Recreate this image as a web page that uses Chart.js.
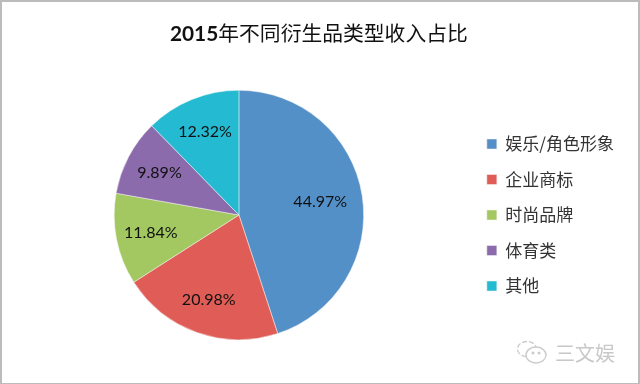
<!DOCTYPE html>
<html lang="zh">
<head>
<meta charset="UTF-8" />
<title>2015年不同衍生品类型收入占比</title>
<script src="https://cdn.jsdelivr.net/npm/chart.js"></script>
<style>
  html, body { margin: 0; padding: 0; background: #fff; overflow: hidden; }
  #wrap { position: relative; width: 640px; height: 384px; }
  #frame { position: absolute; left: 0; top: 0; width: 636px; height: 381px; border: 2px solid #bcbcbc; border-bottom-width: 1px; pointer-events: none; }
  #chartTitle { position: absolute; left: 170px; top: 17px; white-space: nowrap; color: #111; font: 400 20.8px/30px "Noto Sans CJK SC"; }
  #chartTitle b { font: 700 20.8px/30px Lato; }
  #mark { position: absolute; left: 516px; top: 338px; display: flex; align-items: center; gap: 6px; color: #c8c8c8; font: 20px "Noto Sans CJK SC"; }
</style>
</head>
<body>
<div id="wrap">
  <canvas id="pie" width="640" height="384"></canvas>
  <div id="chartTitle"></div>
  <div id="frame"></div>
  <div id="mark">
    <svg width="33" height="26" viewBox="0 0 33 26" fill="none" stroke="#cccccc" stroke-width="1.4">
      <ellipse cx="11" cy="9" rx="9.5" ry="7.5" stroke-dasharray="5 2"/>
      <ellipse cx="20" cy="15" rx="10" ry="8" fill="#fff"/>
      <circle cx="17" cy="13" r=".8"/><circle cx="23" cy="13" r=".8"/>
    </svg>
    <span>三文娱</span>
  </div>
</div>
<script>
const titleYear = '2015';
const titleRest = '年不同衍生品类型收入占比';
const categories = ['娱乐/角色形象', '企业商标', '时尚品牌', '体育类', '其他'];
const shares = [44.97, 20.98, 11.84, 9.89, 12.32];
const sliceColors = ['#5490c8', '#e05c57', '#a3c862', '#8c6bad', '#24bbd2'];

// the year is bold and the rest is not, which a chart title can't do
const titleEl = document.getElementById('chartTitle');
titleEl.innerHTML = `<b>${titleYear}</b>${titleRest}`;

// percent text on each slice, placed at a fraction of the radius
const sliceLabels = {
  id: 'sliceLabels',
  afterDatasetsDraw(chart) {
    const ctx = chart.ctx;
    ctx.save();
    ctx.font = '16px Lato, "Noto Sans CJK SC"';
    ctx.fillStyle = '#111';
    ctx.textAlign = 'center';
    ctx.textBaseline = 'middle';
    chart.getDatasetMeta(0).data.forEach((arc, i) => {
      const mid = (arc.startAngle + arc.endAngle) / 2;
      const r = arc.outerRadius * (i === 0 ? 0.66 : 0.72);
      ctx.fillText(shares[i].toFixed(2) + '%', arc.x + Math.cos(mid) * r, arc.y + Math.sin(mid) * r);
    });
    ctx.restore();
  }
};

new Chart(document.getElementById('pie'), {
  type: 'pie',
  data: {
    labels: categories,
    datasets: [{ data: shares, backgroundColor: sliceColors, borderColor: '#f4f4f4', borderWidth: 0.5 }]
  },
  options: {
    responsive: false,
    animation: false,
    layout: { padding: { top: 90, left: 9.5, right: 16, bottom: 44 } },
    plugins: {
      legend: {
        position: 'right',
        fullSize: false,
        labels: {
          boxWidth: 10,
          boxHeight: 10,
          padding: 18.5,
          color: '#333',
          font: { family: '"Noto Sans CJK SC"', size: 17 }
        }
      },
      tooltip: { enabled: false }
    }
  },
  plugins: [sliceLabels]
});
</script>
</body>
</html>
